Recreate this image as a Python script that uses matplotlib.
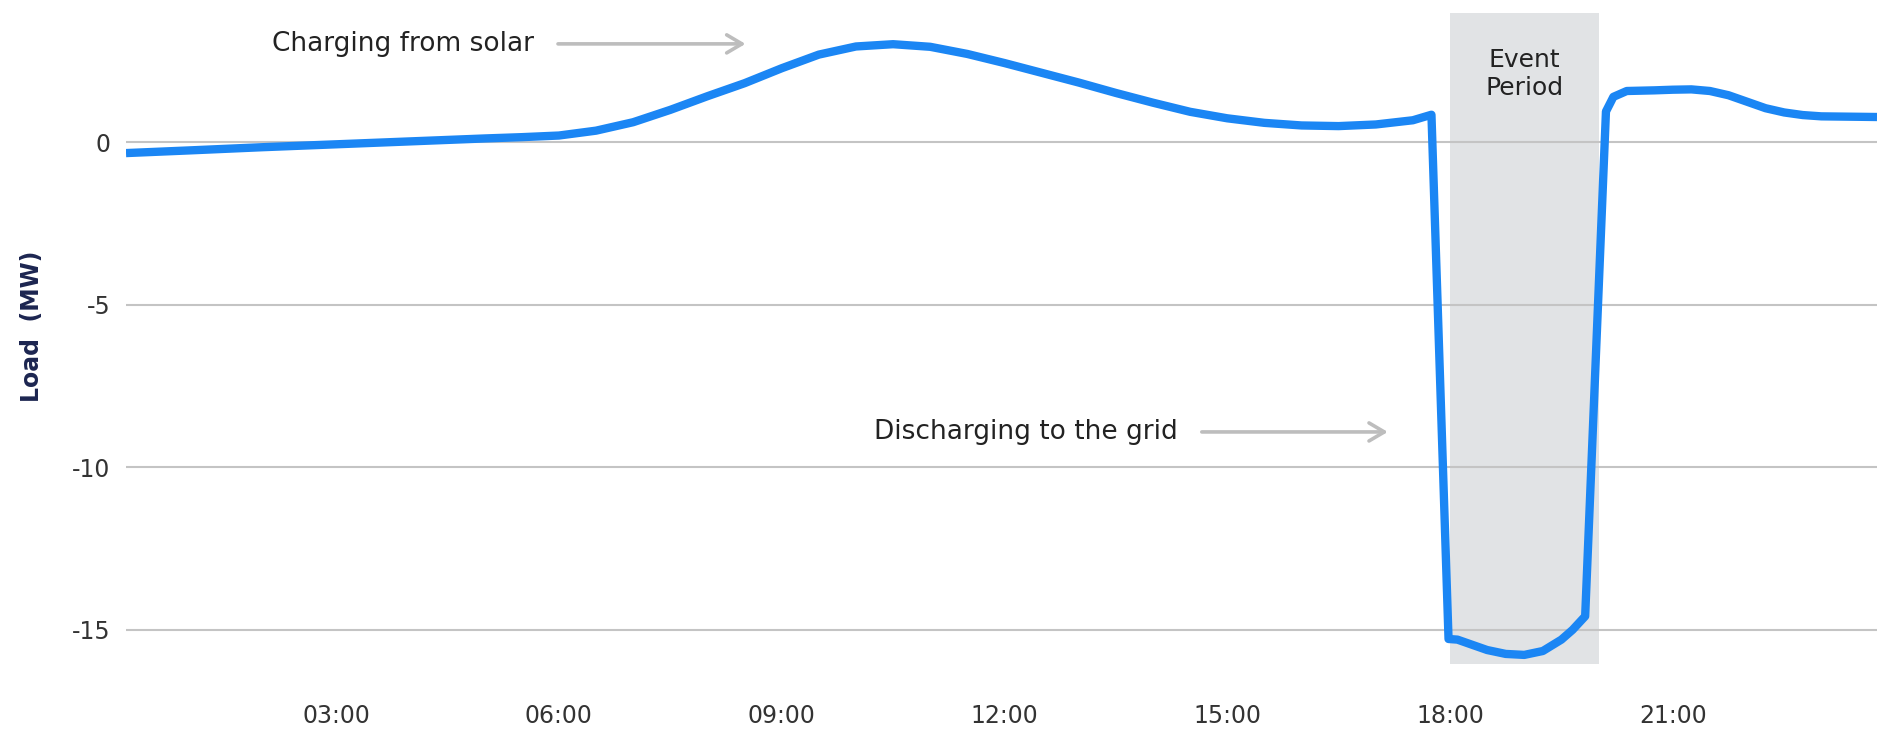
import matplotlib
matplotlib.use("Agg")
import matplotlib.pyplot as plt

# ---- data (hours of day, load in MW) ----
hours = [0.17, 1.0, 2.0, 3.0, 4.0, 5.0, 5.5, 6.0, 6.5, 7.0, 7.5, 8.0, 8.5, 9.0,
         9.5, 10.0, 10.5, 11.0, 11.5, 12.0, 12.5, 13.0, 13.5, 14.0, 14.5, 15.0,
         15.5, 16.0, 16.5, 17.0, 17.5, 17.75, 17.98, 18.1, 18.25, 18.5, 18.75,
         19.0, 19.25, 19.5, 19.65, 19.82, 20.1, 20.2, 20.38, 20.75, 21.0,
         21.25, 21.5, 21.75, 22.0, 22.25, 22.5, 22.75, 23.0, 23.75]
load_mw = [-0.33, -0.25, -0.15, -0.06, 0.03, 0.12, 0.16, 0.21, 0.36, 0.62, 1.0,
           1.42, 1.82, 2.28, 2.7, 2.95, 3.02, 2.94, 2.72, 2.44, 2.14, 1.84, 1.52,
           1.22, 0.94, 0.74, 0.6, 0.52, 0.5, 0.55, 0.68, 0.85, -15.28, -15.3,
           -15.42, -15.62, -15.74, -15.77, -15.65, -15.3, -15.0, -14.58, 0.95,
           1.4, 1.58, 1.6, 1.62, 1.63, 1.58, 1.45, 1.25, 1.05, 0.92, 0.84, 0.8,
           0.78]

event_start, event_end = 18.0, 20.0
x_ticks = [3, 6, 9, 12, 15, 18, 21]
x_tick_labels = ["03:00", "06:00", "09:00", "12:00", "15:00", "18:00", "21:00"]
y_ticks = [0, -5, -10, -15]
y_tick_labels = ["0", "-5", "-10", "-15"]

FONT = ["DejaVu Sans"]
plt.rcParams["font.family"] = FONT

W, H = 1877, 732
fig = plt.figure(figsize=(W / 100, H / 100), dpi=100)
ax_left, ax_right = 126 / W, 1.0
ax_top, ax_bottom = 1 - 13 / H, 1 - 664 / H
ax = fig.add_axes([ax_left, ax_bottom, ax_right - ax_left, ax_top - ax_bottom])

ax.set_xlim(0.17, 23.75)
ax.set_ylim(-16.05, 3.98)

ax.axvspan(event_start, event_end, color="#e1e3e5", zorder=0, lw=0)
for yt in y_ticks:
    ax.axhline(yt, color="#c4c4c4", lw=1.5, zorder=1)

ax.plot(hours, load_mw, color="#1b86f4", lw=6.0, zorder=3,
        solid_joinstyle="round", solid_capstyle="butt")

for s in ax.spines.values():
    s.set_visible(False)

ax.set_xticks(x_ticks)
ax.set_xticklabels(x_tick_labels)
ax.set_yticks(y_ticks)
ax.set_yticklabels(y_tick_labels)
ax.tick_params(axis="both", length=0, labelsize=17, labelcolor="#333333")
ax.tick_params(axis="x", pad=29)
ax.tick_params(axis="y", pad=11)

ax.set_ylabel("Load  (MW)", fontsize=17, fontweight="bold", color="#1c2550")
ax.yaxis.set_label_coords(-0.047, 0.518)

# annotations
arrow_props = dict(arrowstyle="->,head_length=1.1,head_width=0.65",
                   color="#bdbdbd", lw=2.6)
ax.text(5.67, 3.03, "Charging from solar", ha="right", va="center",
        fontsize=19, color="#222222")
ax.annotate("", xy=(8.55, 3.03), xytext=(5.95, 3.03), arrowprops=arrow_props)
ax.text(14.33, -8.91, "Discharging to the grid", ha="right", va="center",
        fontsize=19, color="#222222")
ax.annotate("", xy=(17.2, -8.91), xytext=(14.62, -8.91), arrowprops=arrow_props)
ax.text((event_start + event_end) / 2, 2.1, "Event\nPeriod", ha="center",
        va="center", fontsize=18, color="#222222", linespacing=1.25)

fig.savefig("out.png", dpi=100, facecolor="white")
